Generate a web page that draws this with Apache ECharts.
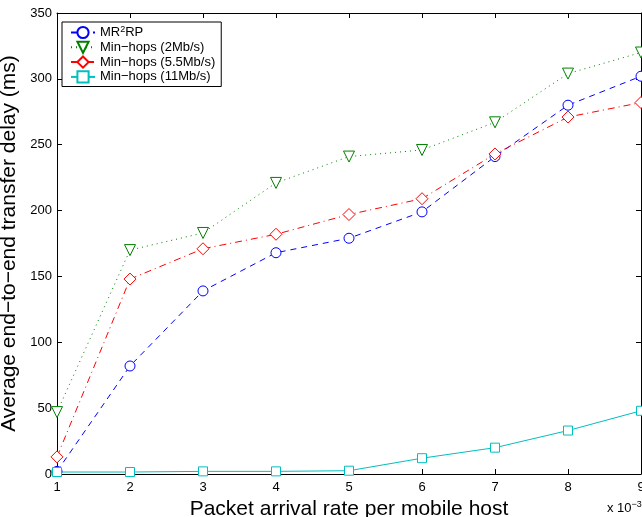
<!DOCTYPE html>
<html>
<head>
<meta charset="utf-8">
<script src="https://cdn.jsdelivr.net/npm/echarts@6/dist/echarts.min.js"></script>
<style>
  html, body { margin: 0; padding: 0; background: #fff; }
  #main { width: 642px; height: 517px; }
</style>
</head>
<body>
<div id="main"></div>
<script>
// packet arrival rate (x 10^-3)
var rates = [1, 2, 3, 4, 5, 6, 7, 8, 9];
var mr2rp = [2, 82, 139, 168, 179, 199, 241, 280, 302];
var minhops2 = [47, 170, 183, 221, 241, 246, 267, 304, 320];
var minhops55 = [13, 148, 171, 182, 197, 209, 243, 271, 282];
var minhops11 = [1.5, 1.5, 2, 2, 2.5, 12, 20, 33, 48];
var seriesNames = ['MR2RP', 'Min\u2212hops (2Mb/s)', 'Min\u2212hops (5.5Mb/s)', 'Min\u2212hops (11Mb/s)'];

function pairs(ys) {
  return rates.map(function (x, i) { return [x, ys[i]]; });
}

var chart = echarts.init(document.getElementById('main'));
var font = 'Liberation Sans, Arial, Helvetica, sans-serif';

var baseAxis = {
  axisLine: { show: true, onZero: false, lineStyle: { color: '#000', width: 1 } },
  axisTick: { show: true, inside: true, length: 5, lineStyle: { color: '#000' } },
  splitLine: { show: false }
};

function marker(color) {
  return { color: '#fff', borderColor: color, borderWidth: 1 };
}

var option = {
  animation: false,
  backgroundColor: '#fff',
  textStyle: { fontFamily: font },
  grid: { left: 57, top: 13, width: 584, height: 461, containLabel: false, outerBoundsMode: 'none' },
  legend: {
    left: 62, top: 22,
    orient: 'vertical',
    itemGap: 1.6,
    itemWidth: 24,
    itemHeight: 14,
    padding: [3, 6, 3, 8],
    borderColor: '#000',
    borderWidth: 1,
    backgroundColor: '#fff',
    data: seriesNames,
    formatter: function (n) { return n === 'MR2RP' ? 'MR{sup|2}RP' : n; },
    textStyle: {
      fontSize: 13, color: '#000', fontFamily: font,
      rich: { sup: { fontSize: 9, verticalAlign: 'bottom', padding: [0, 0, 6, 0], color: '#000' } }
    }
  },
  xAxis: [
    Object.assign({}, baseAxis, {
      type: 'value', min: 1, max: 9, interval: 1, position: 'bottom',
      name: 'Packet arrival rate per mobile host',
      nameLocation: 'middle', nameGap: 21,
      nameTextStyle: { fontSize: 21, color: '#000', fontFamily: font },
      axisLabel: { fontSize: 13, color: '#000', margin: 7 }
    }),
    Object.assign({}, baseAxis, {
      type: 'value', min: 1, max: 9, interval: 1, position: 'top',
      axisLabel: { show: false }
    })
  ],
  yAxis: [
    Object.assign({}, baseAxis, {
      type: 'value', min: 0, max: 350, interval: 50, position: 'left',
      name: 'Average end\u2212to\u2212end transfer delay (ms)',
      nameLocation: 'middle', nameGap: 24,
      nameTextStyle: { fontSize: 21, color: '#000', fontFamily: font },
      axisLabel: { fontSize: 13, color: '#000', margin: 5 }
    }),
    Object.assign({}, baseAxis, {
      type: 'value', min: 0, max: 350, interval: 50, position: 'right',
      axisLabel: { show: false }
    })
  ],
  series: [
    {
      name: seriesNames[0], type: 'line', data: pairs(mr2rp),
      symbol: 'circle', symbolSize: 10,
      itemStyle: marker('#0000ff'),
      lineStyle: { color: '#0000ff', width: 1, type: [6, 5] }
    },
    {
      name: seriesNames[1], type: 'line', data: pairs(minhops2),
      symbol: 'triangle', symbolRotate: 180, symbolSize: 11,
      itemStyle: marker('#008000'),
      lineStyle: { color: '#008000', width: 1, type: [1, 4] }
    },
    {
      name: seriesNames[2], type: 'line', data: pairs(minhops55),
      symbol: 'diamond', symbolSize: 12,
      itemStyle: marker('#ff0000'),
      lineStyle: { color: '#ff0000', width: 1, type: [7, 4, 1, 4] }
    },
    {
      name: seriesNames[3], type: 'line', data: pairs(minhops11),
      symbol: 'rect', symbolSize: 9,
      itemStyle: marker('#00bfbf'),
      lineStyle: { color: '#00bfbf', width: 1, type: 'solid' }
    }
  ],
  graphic: [{
    type: 'text', left: 607, top: 500,
    style: {
      text: 'x 10{sup|\u22123}',
      fontSize: 13, fill: '#000', fontFamily: font,
      rich: { sup: { fontSize: 9, verticalAlign: 'bottom', padding: [0, 0, 7, 0] } }
    }
  }]
};

chart.setOption(option);
</script>
</body>
</html>
